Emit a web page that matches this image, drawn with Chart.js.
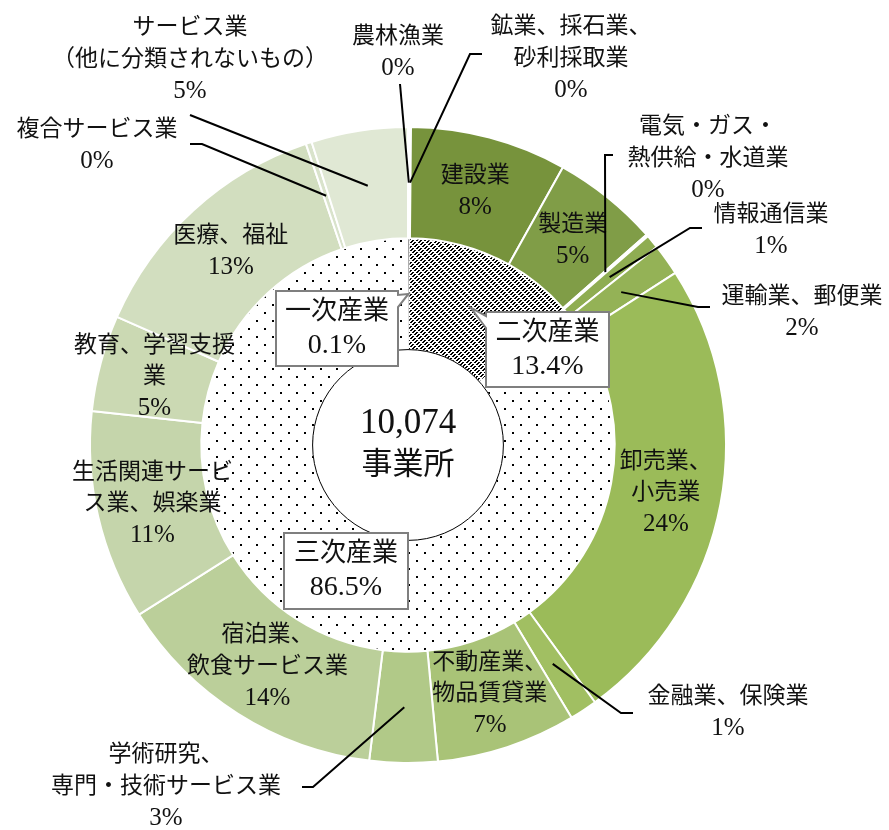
<!DOCTYPE html>
<html>
<head>
<meta charset="utf-8">
<script src="https://cdn.jsdelivr.net/npm/chart.js@4.4.1/dist/chart.umd.min.js"></script>
<style>
html,body{margin:0;padding:0;background:#fff;}
#wrap{width:889px;height:830px;position:relative;}
</style>
</head>
<body>
<div id="wrap"><canvas id="c" width="889" height="830"></canvas></div>
<script>
// ---------- data ----------
const industries = [
  '農林漁業', '鉱業、採石業、砂利採取業', '建設業', '製造業', '電気・ガス・熱供給・水道業',
  '情報通信業', '運輸業、郵便業', '卸売業、小売業', '金融業、保険業', '不動産業、物品賃貸業',
  '学術研究、専門・技術サービス業', '宿泊業、飲食サービス業', '生活関連サービス業、娯楽業',
  '教育、学習支援業', '医療、福祉', '複合サービス業', 'サービス業（他に分類されないもの）'
];
const industryShares = [0.1, 0.05, 7.95, 5.4, 0.1, 0.7, 1.6, 24.1, 1.4, 7.1, 3.45, 14.1, 10.65, 4.9, 13.2, 0.3, 4.9];
const industryLabelLines = [
  ['農林漁業'], ['鉱業、採石業、', '砂利採取業'], ['建設業'], ['製造業'], ['電気・ガス・', '熱供給・水道業'],
  ['情報通信業'], ['運輸業、郵便業'], ['卸売業、', '小売業'], ['金融業、保険業'], ['不動産業、', '物品賃貸業'],
  ['学術研究、', '専門・技術サービス業'], ['宿泊業、', '飲食サービス業'], ['生活関連サービ', 'ス業、娯楽業'],
  ['教育、学習支援', '業'], ['医療、福祉'], ['複合サービス業'], ['サービス業', '（他に分類されないもの）']
];
const sectors = ['一次産業', '二次産業', '三次産業'];
const sectorShares = [0.1, 13.4, 86.5];
const centerLines = ['10,074', '事業所'];

// ---------- styles ----------
const industryColors = ['#718d37','#748f3a','#77933c','#809d47','#89a74e','#8fad52','#94b256','#9bbb59',
  '#a1bf62','#a9c377','#b1c988','#bbcf9a','#c5d5ab','#cbd9b3','#d2debf','#d9e3cb','#e0e8d4'];
const FONT = '"Liberation Serif", "Noto Sans CJK JP", serif';
const TEXT_COLOR = '#111';

// outside-label layout (text anchor & leader start points)
const outsideLayout = {
  0:  {x: 398, y: 37,  leader: [[400, 84]]},
  1:  {x: 571, y: 27,  leader: [[482, 54], [470, 54]]},
  4:  {x: 708, y: 127, leader: [[613, 155], [605, 155]]},
  5:  {x: 771, y: 215, leader: [[702, 228], [690, 228]]},
  6:  {x: 802, y: 297, leader: [[710, 307], [698, 307]]},
  8:  {x: 728, y: 697, leader: [[633, 713], [621, 713]]},
  10: {x: 166, y: 755, leader: [[302, 787], [313, 787]]},
  15: {x: 97,  y: 130, leader: [[190, 144], [202, 144]]},
  16: {x: 190, y: 28,  leader: [[190, 115]]}
};
const sectorBoxes = [
  {cx: 337, cy: 328.5, w: 122, h: 75},
  {cx: 547.5, cy: 349.5, w: 123, h: 75},
  {cx: 346, cy: 571, w: 124, h: 76}
];

// ---------- patterns ----------
function makePattern(drawFn, size) {
  const c = document.createElement('canvas');
  c.width = size; c.height = size;
  const g = c.getContext('2d');
  g.fillStyle = '#fff'; g.fillRect(0, 0, size, size);
  g.fillStyle = '#000';
  drawFn(g, size);
  return document.getElementById('c').getContext('2d').createPattern(c, 'repeat');
}
const hatchPattern = makePattern((g, s) => {
  for (let y = 0; y < s; y++) for (let x = 0; x < s; x++) {
    const d = (x + y) % 4;
    const e = ((x - y) % 8 + 8) % 8;
    if (d < 2 && e < 6) g.fillRect(x, y, 1, 1);
  }
}, 8);
const dotPattern = makePattern(g => {
  g.fillRect(0, 0, 2, 2);
  g.fillRect(8, 8, 2, 2);
}, 16);
const sectorFills = ['#000', hatchPattern, dotPattern];

// ---------- helpers ----------
function pctInt(v) { return Math.round(v) + '%'; }
function pct1(v) { return v.toFixed(1) + '%'; }
const TXT_FONT = '23px ' + FONT;
const NUM_FONT = '25px ' + FONT;
function drawLines(ctx, lines, x, y, lh) {
  lines.forEach((t, k) => {
    ctx.font = (k === lines.length - 1) ? NUM_FONT : TXT_FONT;
    ctx.fillText(t, x, y + k * lh);
  });
}
function calloutPath(ctx, L, T, R, B, tip) {
  const clamp = (v, a, b) => Math.max(a, Math.min(b, v));
  ctx.beginPath();
  ctx.moveTo(L, T);
  ctx.lineTo(R, T);
  if (tip.x > R) {
    const by = clamp(tip.y, T + 4, B - 16);
    ctx.lineTo(R, by); ctx.lineTo(tip.x, tip.y); ctx.lineTo(R, by + 12);
  }
  ctx.lineTo(R, B);
  ctx.lineTo(L, B);
  if (tip.x < L) {
    const by = clamp(tip.y, T + 4, B - 16);
    ctx.lineTo(L, by + 12); ctx.lineTo(tip.x, tip.y); ctx.lineTo(L, by);
  }
  ctx.closePath();
}

const labelPlugin = {
  id: 'labelPlugin',
  afterDatasetsDraw(chart) {
    const ctx = chart.ctx;
    const outer = chart.getDatasetMeta(0).data;
    const inner = chart.getDatasetMeta(1).data;
    ctx.save();
    // hole outline
    const a0 = inner[0];
    ctx.beginPath();
    ctx.arc(a0.x, a0.y, a0.innerRadius, 0, Math.PI * 2);
    ctx.fillStyle = '#fff';
    ctx.fill();
    ctx.strokeStyle = '#000';
    ctx.lineWidth = 1;
    ctx.stroke();

    // center text
    ctx.fillStyle = TEXT_COLOR;
    ctx.textAlign = 'center';
    ctx.textBaseline = 'middle';
    ctx.font = '35px ' + FONT;
    ctx.fillText(centerLines[0], a0.x, a0.y - 21);
    ctx.font = '31px ' + FONT;
    ctx.fillText(centerLines[1], a0.x, a0.y + 21);

    // outer ring labels
    const LH = 31.5;
    industries.forEach((name, i) => {
      const p = outer[i].tooltipPosition();
      const lines = industryLabelLines[i].concat([pctInt(industryShares[i])]);
      const lay = outsideLayout[i];
      if (lay) {
        ctx.beginPath();
        ctx.moveTo(lay.leader[0][0], lay.leader[0][1]);
        for (let k = 1; k < lay.leader.length; k++) ctx.lineTo(lay.leader[k][0], lay.leader[k][1]);
        ctx.lineTo(p.x, p.y);
        ctx.strokeStyle = '#000';
        ctx.lineWidth = 2;
        ctx.stroke();
        ctx.fillStyle = TEXT_COLOR;
        drawLines(ctx, lines, lay.x, lay.y, LH);
      } else {
        ctx.fillStyle = TEXT_COLOR;
        drawLines(ctx, lines, p.x, p.y - (lines.length - 1) * LH / 2, LH);
      }
    });

    // inner ring callout boxes
    sectors.forEach((name, i) => {
      const b = sectorBoxes[i];
      const tip = inner[i].tooltipPosition();
      const L = b.cx - b.w / 2, R = b.cx + b.w / 2, T = b.cy - b.h / 2, B = b.cy + b.h / 2;
      calloutPath(ctx, L, T, R, B, tip);
      ctx.fillStyle = '#fff';
      ctx.fill();
      ctx.strokeStyle = '#7f7f7f';
      ctx.lineWidth = 2;
      ctx.stroke();
      ctx.fillStyle = TEXT_COLOR;
      ctx.font = '26px ' + FONT;
      ctx.fillText(name, b.cx, b.cy - 16.5);
      ctx.font = '28px ' + FONT;
      ctx.fillText(pct1(sectorShares[i]), b.cx, b.cy + 17);
    });
    ctx.restore();
  }
};

new Chart(document.getElementById('c'), {
  type: 'doughnut',
  data: {
    labels: industries,
    datasets: [
      {
        data: industryShares,
        backgroundColor: industryColors,
        borderColor: '#fff',
        borderWidth: 2
      },
      {
        data: sectorShares,
        backgroundColor: sectorFills,
        borderColor: ['#000', '#fff', '#fff'],
        borderWidth: [1, 1, 1]
      }
    ]
  },
  options: {
    responsive: false,
    animation: false,
    events: [],
    radius: 318,
    cutout: '30%',
    layout: {padding: {left: 91, right: 164, top: 128, bottom: 68}},
    plugins: {
      legend: {display: false},
      tooltip: {enabled: false}
    }
  },
  plugins: [labelPlugin]
});
</script>
</body>
</html>
